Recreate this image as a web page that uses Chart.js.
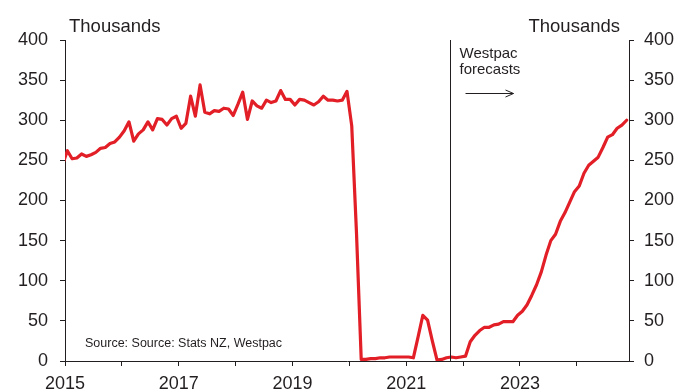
<!DOCTYPE html>
<html>
<head>
<meta charset="utf-8">
<title>Arrivals</title>
<script src="https://cdn.jsdelivr.net/npm/chart.js@4/dist/chart.umd.min.js"></script>
<style>
  html, body { margin: 0; padding: 0; background: #fff; }
  canvas { display: block; }
</style>
</head>
<body>
<canvas id="chart" width="690" height="390"></canvas>
<script>
// Monthly series, Dec 2014 to Nov 2024 (thousands)
const firstMonth = -1; // months after Jan 2015
const arrivals = [
  245,
  262, 252, 253, 258, 255, 257, 260, 265, 266, 271, 273, 279,
  287, 298, 274, 283, 288, 298, 288, 302, 301, 294, 302, 305,
  290, 296, 330, 305, 344, 310, 308, 312, 311, 315, 314, 306,
  320, 335, 301, 324, 318, 315, 325, 322, 324, 337, 326, 326,
  319, 326, 325, 322, 319, 323, 330, 325, 325, 324, 325, 336,
  293, 160, 2, 2, 3, 3, 4, 4, 5, 5, 5, 5,
  5, 4, 30, 57, 51, 25, 1, 2, 4, 5, 4, 5,
  6, 24, 32, 38, 42, 42, 45, 46, 49, 49, 49, 57,
  62, 70, 82, 95, 111, 132, 150, 158, 174, 185, 198, 211,
  218, 234, 244, 249, 254, 266, 279, 282, 290, 294, 300
];
const yTicks = [0, 50, 100, 150, 200, 250, 300, 350, 400];
const yearTicks = [2015, 2016, 2017, 2018, 2019, 2020, 2021, 2022, 2023, 2024];
const labelledYears = [2015, 2017, 2019, 2021, 2023];
const forecastStart = 81.3; // months after Jan 2015

const ink = '#231f20';
const font = '"Liberation Sans", Arial, sans-serif';

const points = arrivals.map((v, i) => ({ x: firstMonth + i + 0.5, y: v }));

// text, forecast divider and arrow
const annotations = {
  id: 'annotations',
  afterDatasetsDraw(chart) {
    const { ctx, chartArea, scales } = chart;
    ctx.save();
    const xf = Math.round(scales.x.getPixelForValue(forecastStart)) + 0.5;
    ctx.strokeStyle = ink;
    ctx.lineWidth = 1;
    ctx.beginPath();
    ctx.moveTo(xf, chartArea.top);
    ctx.lineTo(xf, chartArea.bottom);
    ctx.stroke();

    // arrow
    const ay = 93.5, ax0 = xf + 15, ax1 = xf + 63;
    ctx.beginPath();
    ctx.moveTo(ax0, ay);
    ctx.lineTo(ax1, ay);
    ctx.moveTo(ax1 - 8, ay - 3.5);
    ctx.lineTo(ax1, ay);
    ctx.lineTo(ax1 - 8, ay + 3.5);
    ctx.stroke();

    ctx.fillStyle = ink;
    ctx.textBaseline = 'alphabetic';
    ctx.font = '15px ' + font;
    ctx.textAlign = 'left';
    ctx.fillText('Westpac', xf + 9, 58);
    ctx.fillText('forecasts', xf + 9, 74);

    ctx.font = '18.5px ' + font;
    ctx.fillText('Thousands', chartArea.left + 4, 32);
    ctx.textAlign = 'right';
    ctx.fillText('Thousands', chartArea.right - 9, 32);

    ctx.textAlign = 'left';
    ctx.font = '12.5px ' + font;
    ctx.fillText('Source: Source: Stats NZ, Westpac', chartArea.left + 20, 347);
    ctx.restore();
  }
};

const yAxis = (position, width, padding) => ({
  type: 'linear',
  position,
  min: 0,
  max: 400,
  afterBuildTicks(scale) { scale.ticks = yTicks.map(v => ({ value: v })); },
  afterFit(scale) { scale.width = width; },
  border: { display: true, color: ink, width: 1 },
  grid: { drawOnChartArea: false, drawTicks: true, tickLength: 5, color: ink },
  ticks: { color: ink, padding, font: { family: font, size: 18 } }
});

new Chart(document.getElementById('chart'), {
  type: 'line',
  data: {
    datasets: [{
      data: points,
      borderColor: '#e21e26',
      borderWidth: 3.2,
      pointRadius: 0,
      tension: 0,
      borderJoinStyle: 'round',
      borderCapStyle: 'round'
    }]
  },
  options: {
    responsive: false,
    animation: false,
    layout: { padding: { top: 40, left: 0, right: 0, bottom: 0 } },
    plugins: { legend: { display: false }, tooltip: { enabled: false } },
    scales: {
      x: {
        type: 'linear',
        min: 0,
        max: 119,
        afterBuildTicks(scale) {
          scale.ticks = yearTicks.map(y => ({ value: (y - 2015) * 12 }));
        },
        afterFit(scale) { scale.height = 29; },
        border: { display: true, color: ink, width: 1 },
        grid: { drawOnChartArea: false, drawTicks: true, tickLength: 5, color: ink },
        ticks: {
          color: ink,
          padding: 7,
          autoSkip: false,
          maxRotation: 0,
          font: { family: font, size: 18 },
          callback(value) {
            const year = 2015 + value / 12;
            return labelledYears.includes(year) ? String(year) : '';
          }
        }
      },
      y: yAxis('left', 65, 12),
      y2: yAxis('right', 61, 10)
    }
  },
  plugins: [annotations]
});
</script>
</body>
</html>
